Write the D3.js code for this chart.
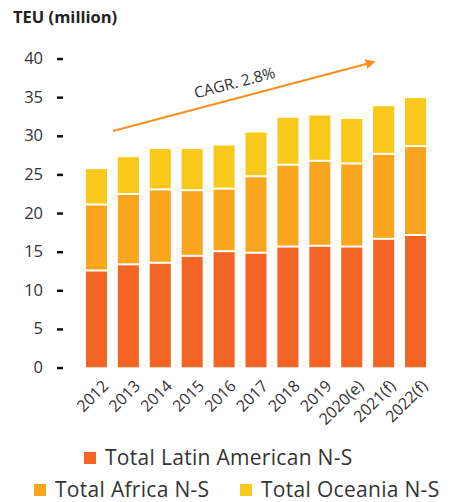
<!DOCTYPE html>
<html>
<head>
<meta charset="utf-8">
<script src="https://cdn.jsdelivr.net/npm/d3@7"></script>
<style>
  body { margin: 0; background: #fff; }
  svg { display: block; font-family: "Open Sans", sans-serif; }
</style>
</head>
<body>
<svg id="chart"></svg>
<script>
// data
const years = ['2012', '2013', '2014', '2015', '2016', '2017', '2018', '2019', '2020(e)', '2021(f)', '2022(f)'];
const latinAmerica = [12.4, 13.2, 13.4, 14.3, 14.9, 14.7, 15.5, 15.6, 15.5, 16.5, 17.0];
const africa = [8.55, 9.1, 9.5, 8.5, 8.1, 9.9, 10.6, 11.0, 10.75, 11.0, 11.5];
const oceania = [4.7, 4.9, 5.35, 5.45, 5.7, 5.8, 6.2, 6.0, 5.9, 6.3, 6.35];
const yTicks = [0, 5, 10, 15, 20, 25, 30, 35, 40];
const seriesNames = ['Total Latin American N-S', 'Total Africa N-S', 'Total Oceania N-S'];
const colors = ['#F26524', '#F9A51E', '#F8C91A'];

const w = 449;
const h = 502;

const svg = d3.select('#chart')
  .attr('width', w)
  .attr('height', h);

// scales
const x = d3.scaleBand()
  .domain(years)
  .range([80.5, 431.5])
  .paddingInner(0.34)
  .paddingOuter(0.17);

const y = d3.scaleLinear()
  .domain([0, 40])
  .range([367.3, 58.3]);

// stack the three series
const table = years.map((yr, i) => ({
  year: yr,
  latin: latinAmerica[i],
  africa: africa[i],
  oceania: oceania[i]
}));
const stacked = d3.stack().keys(['latin', 'africa', 'oceania'])(table);

const gap = 2;
svg.append('g')
  .selectAll('g')
  .data(stacked)
  .join('g')
  .attr('fill', (d, i) => colors[i])
  .selectAll('rect')
  .data((d, i) => d.map(p => ({ p, i })))
  .join('rect')
  .attr('x', d => x(d.p.data.year))
  .attr('width', x.bandwidth())
  .attr('y', d => y(d.p[1]))
  .attr('height', d => y(d.p[0]) - y(d.p[1]) - (d.i === 0 ? 0 : gap));

// y axis: dash ticks, no domain line
const yAxis = d3.axisLeft(y)
  .tickValues(yTicks)
  .tickSize(0)
  .tickPadding(17);
const gy = svg.append('g')
  .attr('transform', 'translate(60,0)')
  .call(yAxis);
gy.select('.domain').remove();
gy.selectAll('.tick text')
  .attr('fill', '#333')
  .style('font-size', '16.5px')
  .style('font-family', '"Open Sans", sans-serif');
gy.selectAll('.tick')
  .append('rect')
  .attr('x', -3)
  .attr('y', -1)
  .attr('width', 6)
  .attr('height', 2.5)
  .attr('fill', '#111');

// x labels, rotated
const gx = svg.append('g')
  .attr('transform', 'translate(0,380)')
  .call(d3.axisBottom(x).tickSize(0).tickPadding(0));
gx.select('.domain').remove();
gx.selectAll('.tick text')
  .attr('fill', '#333')
  .style('font-size', '16px')
  .style('font-family', '"Open Sans", sans-serif')
  .attr('text-anchor', 'end')
  .attr('dy', '0.35em')
  .attr('transform', 'translate(9,3) rotate(-45)');

// axis title
svg.append('text')
  .attr('x', 13)
  .attr('y', 23)
  .attr('fill', '#222')
  .style('font-size', '16.5px')
  .style('font-weight', 'bold')
  .text('TEU (million)');

// CAGR arrow
svg.append('defs').append('marker')
  .attr('id', 'arrowhead')
  .attr('viewBox', '0 0 10 10')
  .attr('refX', 2)
  .attr('refY', 5)
  .attr('markerWidth', 4.5)
  .attr('markerHeight', 4.5)
  .attr('orient', 'auto')
  .append('path')
  .attr('d', 'M0,0 L10,5 L0,10 z')
  .attr('fill', '#F7901E');

svg.append('line')
  .attr('x1', 113)
  .attr('y1', 131)
  .attr('x2', 368)
  .attr('y2', 63.5)
  .attr('stroke', '#F7901E')
  .attr('stroke-width', 2.2)
  .attr('marker-end', 'url(#arrowhead)');

svg.append('text')
  .attr('transform', 'translate(236,88) rotate(-14.8)')
  .attr('text-anchor', 'middle')
  .attr('fill', '#333')
  .style('font-size', '15.5px')
  .text('CAGR. 2.8%');

// legend
const legendItems = [
  { x: 84, y: 452, name: seriesNames[0], color: colors[0] },
  { x: 34, y: 484, name: seriesNames[1], color: colors[1] },
  { x: 240, y: 484, name: seriesNames[2], color: colors[2] }
];
const legend = svg.append('g').attr('id', 'legend');
legend.selectAll('rect')
  .data(legendItems)
  .join('rect')
  .attr('x', d => d.x)
  .attr('y', d => d.y)
  .attr('width', 12)
  .attr('height', 12)
  .attr('fill', d => d.color);
legend.selectAll('text')
  .data(legendItems)
  .join('text')
  .attr('x', d => d.x + 21)
  .attr('y', d => d.y + 13)
  .attr('fill', '#333')
  .style('font-size', '21px')
  .style('letter-spacing', '0.3px')
  .text(d => d.name);
</script>
</body>
</html>
